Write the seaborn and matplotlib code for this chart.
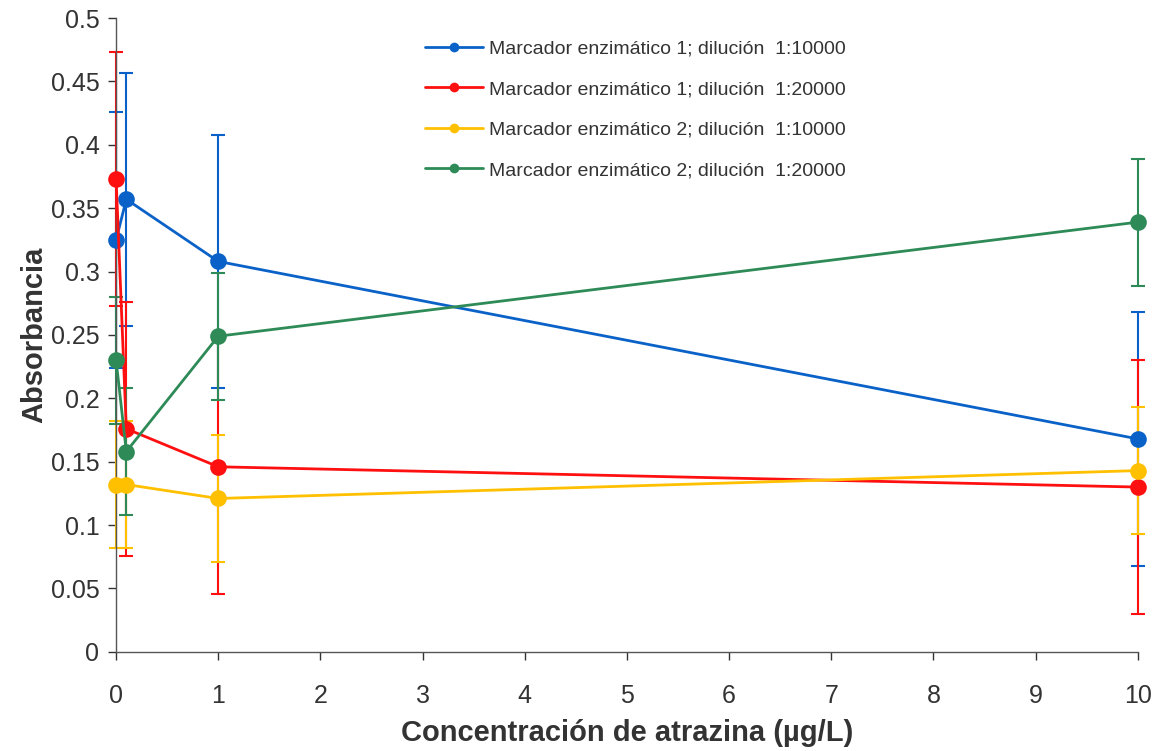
import numpy as np
import pandas as pd
import matplotlib
matplotlib.use("Agg")
import matplotlib.pyplot as plt
import seaborn as sns
from matplotlib.lines import Line2D
from matplotlib.ticker import FormatStrFormatter, MultipleLocator

# concentraciones de atrazina (ug/L)
conc = [0, 0.1, 1, 10]

labels = [
    "Marcador enzimático 1; dilución  1:10000",
    "Marcador enzimático 1; dilución  1:20000",
    "Marcador enzimático 2; dilución  1:10000",
    "Marcador enzimático 2; dilución  1:20000",
]
m1_10000 = [0.325, 0.357, 0.308, 0.168]
m1_20000 = [0.373, 0.176, 0.146, 0.130]
m2_10000 = [0.132, 0.132, 0.121, 0.143]
m2_20000 = [0.230, 0.158, 0.249, 0.339]

err_m1_10000 = [0.101, 0.10, 0.10, 0.10]
err_m1_20000 = [0.10, 0.10, 0.10, 0.10]
err_m2_10000 = [0.05, 0.05, 0.05, 0.05]
err_m2_20000 = [0.05, 0.05, 0.05, 0.05]

colores = ["#0A62C8", "#FF1010", "#FFC000", "#2E8B57"]

series = [m1_10000, m1_20000, m2_10000, m2_20000]
errores = [err_m1_10000, err_m1_20000, err_m2_10000, err_m2_20000]

df = pd.DataFrame({
    "conc": conc * 4,
    "abs": sum(series, []),
    "serie": [l for l in labels for _ in conc],
})

sns.set_style("white")
plt.rcParams["font.family"] = ["Liberation Sans", "DejaVu Sans"]

fig, ax = plt.subplots(figsize=(11.61, 7.51), dpi=100)
fig.subplots_adjust(left=0.1, right=0.98, top=0.976, bottom=0.132)

# barras de error
for vals, err, c in zip(series, errores, colores):
    ax.errorbar(conc, vals, yerr=err, fmt="none", ecolor=c, elinewidth=1.5,
                capsize=5, capthick=1.5, clip_on=False, zorder=2)

sns.lineplot(data=df, x="conc", y="abs", hue="serie", palette=colores,
             marker="o", markersize=12, markeredgewidth=0, linewidth=2,
             ax=ax, legend=False, zorder=3, clip_on=False)

# leyenda
handles = [Line2D([], [], color=c, lw=2, marker="o", markersize=7, markeredgewidth=0)
           for c in colores]
leg = ax.legend(handles, labels, loc="upper left", bbox_to_anchor=(0.285, 0.993),
                frameon=False, fontsize=14, labelspacing=1.18, handlelength=3.0,
                handletextpad=0.3)
for t in leg.get_texts():
    t.set_color("#333333")

ax.set_xlim(0, 10)
ax.set_ylim(0, 0.5)
ax.xaxis.set_major_locator(MultipleLocator(1))
ax.yaxis.set_major_locator(MultipleLocator(0.05))
ax.yaxis.set_major_formatter(FormatStrFormatter("%g"))

ax.tick_params(axis="both", labelsize=18, colors="#333333", length=6, width=1,
               direction="out", left=True, bottom=True)
ax.tick_params(axis="x", pad=17)
ax.tick_params(axis="y", pad=6)

ax.set_xlabel("Concentración de atrazina (µg/L)", fontsize=21, fontweight="bold",
              color="#333333", labelpad=8)
ax.set_ylabel("Absorbancia", fontsize=21, fontweight="bold", color="#333333",
              labelpad=2)

for s in ["top", "right"]:
    ax.spines[s].set_visible(False)
for s in ["left", "bottom"]:
    ax.spines[s].set_color("#555555")
    ax.spines[s].set_linewidth(1)

fig.savefig("out.png", dpi=100)
